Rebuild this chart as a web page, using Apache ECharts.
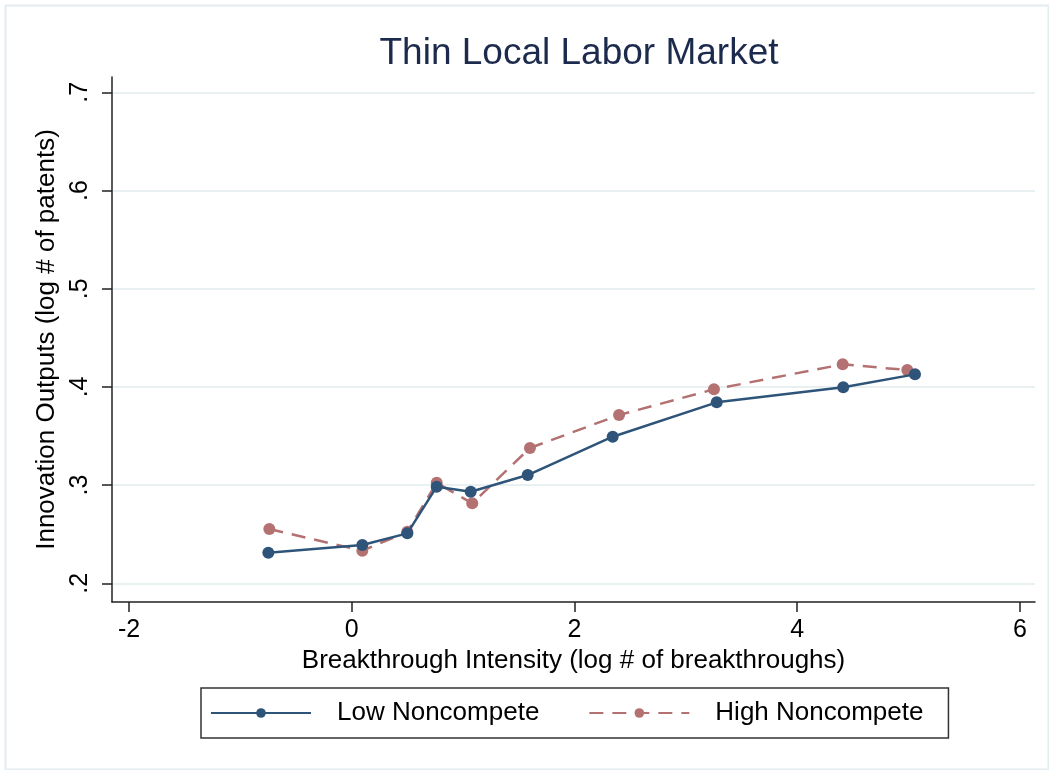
<!DOCTYPE html>
<html>
<head>
<meta charset="utf-8">
<script src="https://cdn.jsdelivr.net/npm/echarts@6/dist/echarts.min.js"></script>
<style>
html,body{margin:0;padding:0;background:#fff;}
#chart{width:1049px;height:770px;}
</style>
</head>
<body>
<div id="chart"></div>
<script>
const xTicks = [-2, 0, 2, 4, 6];
const yTicks = [0.2, 0.3, 0.4, 0.5, 0.6, 0.7];
const yTickLabels = ['.2', '.3', '.4', '.5', '.6', '.7'];
const lowX = [-0.749, 0.095, 0.499, 0.763, 1.068, 1.580, 2.343, 3.277, 4.413, 5.057];
const lowY = [0.2312, 0.2390, 0.2509, 0.2984, 0.2933, 0.3103, 0.3493, 0.3843, 0.3996, 0.4128];
const highX = [-0.740, 0.095, 0.499, 0.763, 1.082, 1.600, 2.400, 3.252, 4.408, 4.988];
const highY = [0.2553, 0.2332, 0.2525, 0.3024, 0.2815, 0.3378, 0.3714, 0.3976, 0.4230, 0.4172];
const seriesNames = ['Low Noncompete', 'High Noncompete'];

const chart = echarts.init(document.getElementById('chart'));
const font = 'Liberation Sans, Arial, sans-serif';
const pair = (xs, ys) => xs.map((x, i) => [x, ys[i]]);
const yLabelMap = {};
yTicks.forEach((v, i) => { yLabelMap[v.toFixed(1)] = yTickLabels[i]; });

chart.setOption({
  animation: false,
  backgroundColor: '#ffffff',
  graphic: [{
    type: 'rect', left: 3, top: 3, shape: {width: 1043, height: 764},
    style: {fill: 'none', stroke: '#e3ecef', lineWidth: 2}, silent: true, z: -10
  }],
  title: {
    text: 'Thin Local Labor Market',
    left: 574, top: 30, textAlign: 'center',
    textStyle: {fontFamily: font, fontSize: 37, fontWeight: 'normal', color: '#1c2a4d'}
  },
  grid: {left: 112, right: 14, top: 77, bottom: 168, containLabel: false},
  xAxis: {
    type: 'value', min: -2.1526, max: 6.1347,
    name: 'Breakthrough Intensity (log # of breakthroughs)',
    nameLocation: 'middle', nameGap: 43,
    nameTextStyle: {fontFamily: font, fontSize: 26, color: '#000'},
    axisLine: {onZero: false, lineStyle: {color: '#222', width: 1.5}},
    axisTick: {show: true, length: 10, customValues: xTicks, lineStyle: {color: '#222', width: 1.5}},
    axisLabel: {customValues: xTicks, margin: 16, fontFamily: font, fontSize: 25, color: '#000',
      formatter: v => String(Math.round(v))},
    splitLine: {show: false}
  },
  yAxis: {
    type: 'value', min: 0.181, max: 0.7156,
    name: 'Innovation Outputs (log # of patents)',
    nameLocation: 'middle', nameGap: 49,
    nameTextStyle: {fontFamily: font, fontSize: 26, color: '#000'},
    axisLine: {show: true, onZero: false, lineStyle: {color: '#222', width: 1.5}},
    axisTick: {show: true, length: 10, customValues: yTicks, lineStyle: {color: '#222', width: 1.5}},
    axisLabel: {customValues: yTicks, rotate: 90, margin: 19, fontFamily: font, fontSize: 25, color: '#000',
      formatter: v => yLabelMap[Number(v).toFixed(1)] || ''},
    splitLine: {show: true, lineStyle: {color: '#e8f0f2', width: 2}}
  },
  legend: {
    left: 201, top: 688,
    padding: [12, 25, 12, 9],
    itemWidth: 100, itemHeight: 12, itemGap: 49,
    borderColor: '#333', borderWidth: 1.5,
    textStyle: {fontFamily: font, fontSize: 26, color: '#000', padding: [0, 0, 0, 21]},
    data: seriesNames
  },
  series: [{
    name: seriesNames[0], type: 'line', data: pair(lowX, lowY),
    symbol: 'circle', symbolSize: 12,
    itemStyle: {color: '#2e5479'},
    lineStyle: {color: '#2e5479', width: 2.5},
    z: 3
  }, {
    name: seriesNames[1], type: 'line', data: pair(highX, highY),
    symbol: 'circle', symbolSize: 12,
    itemStyle: {color: '#b47171'},
    lineStyle: {color: '#b47171', width: 2.5, type: [14, 9]},
    z: 2
  }]
});
</script>
</body>
</html>
